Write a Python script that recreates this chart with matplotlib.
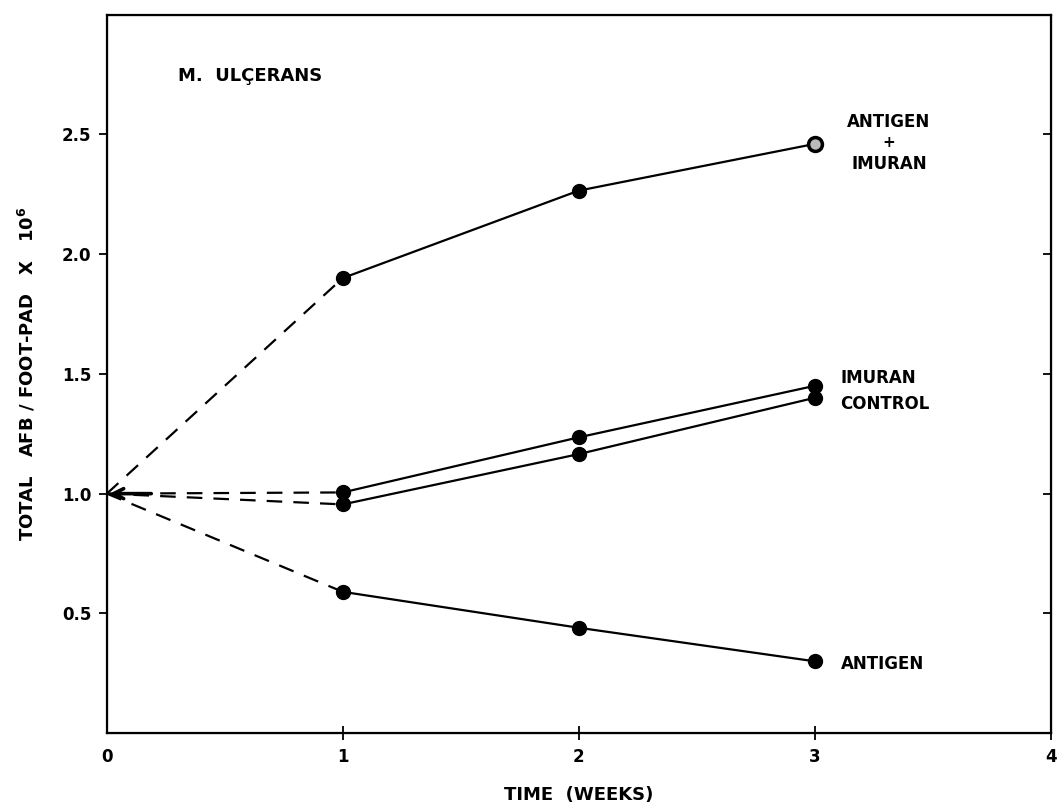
import matplotlib.pyplot as plt

# ---- data ----
weeks = [1, 2, 3]
start_week = 0
start_value = 1.0

antigen_imuran = [1.9, 2.265, 2.46]
imuran = [1.005, 1.235, 1.45]
control = [0.955, 1.165, 1.40]
antigen = [0.59, 0.44, 0.30]

series = [antigen_imuran, imuran, control, antigen]

x_ticks = [1, 2, 3, 4]
y_ticks = [0.5, 1.0, 1.5, 2.0, 2.5]

plt.rcParams['font.family'] = ['DejaVu Sans']
plt.rcParams['font.weight'] = 'bold'
plt.rcParams['axes.labelweight'] = 'bold'

fig = plt.figure(figsize=(10.58, 8.11), dpi=100)
ax = fig.add_axes([0.101, 0.096, 0.892, 0.886])

for vals in series:
    # dashed part from the common starting point to week 1
    ax.plot([start_week, weeks[0]], [start_value, vals[0]], color='black',
            lw=1.6, dashes=(7, 5))
    ax.plot(weeks, vals, color='black', lw=1.6, marker='o', markersize=10)

# open-centred marker at the last antigen+imuran point
ax.plot(weeks[-1], antigen_imuran[-1], marker='o', markersize=10,
        markerfacecolor='#bbbbbb', markeredgecolor='black', markeredgewidth=2.5)

# arrow at 1.0 on the y axis
ax.annotate('', xy=(0.0, 1.0), xytext=(0.2, 1.0),
            arrowprops=dict(arrowstyle='->', lw=2.6, color='black',
                            mutation_scale=18))

ax.set_xlim(0, 4)
ax.set_ylim(0, 3.0)
ax.set_xticks(x_ticks)
ax.set_xticklabels([str(t) for t in x_ticks], fontsize=12, fontweight='bold')
ax.set_yticks(y_ticks)
ax.set_yticklabels([f'{t:.1f}' for t in y_ticks], fontsize=12,
                   fontweight='bold')
ax.tick_params(axis='y', direction='out', length=6, width=1.3, pad=5)
ax.tick_params(axis='x', direction='inout', length=10, width=1.3, pad=6)
for s in ax.spines.values():
    s.set_linewidth(1.6)

# right-side inward ticks
ax2 = ax.twinx()
ax2.set_ylim(0, 3.0)
ax2.set_yticks(y_ticks)
ax2.set_yticklabels([])
ax2.tick_params(axis='y', direction='in', length=6, width=1.3)

ax.text(0.0, -0.06, '0', fontsize=12, ha='center', va='top')

ax.set_xlabel('TIME  (WEEKS)', fontsize=13, labelpad=14)
ax.set_ylabel('TOTAL   AFB / FOOT-PAD   X   10$^{\\mathbf{6}}$', fontsize=13,
              labelpad=18)

ax.text(0.30, 2.745, 'M.  ULÇERANS', fontsize=13, va='center')
ax.text(3.315, 2.55, 'ANTIGEN', fontsize=12, ha='center', va='center')
ax.text(3.315, 2.465, '+', fontsize=11, ha='center', va='center')
ax.text(3.315, 2.375, 'IMURAN', fontsize=12, ha='center', va='center')
ax.text(3.11, 1.483, 'IMURAN', fontsize=12, va='center')
ax.text(3.11, 1.375, 'CONTROL', fontsize=12, va='center')
ax.text(3.11, 0.29, 'ANTIGEN', fontsize=12, va='center')

fig.savefig('out.png', dpi=100)
